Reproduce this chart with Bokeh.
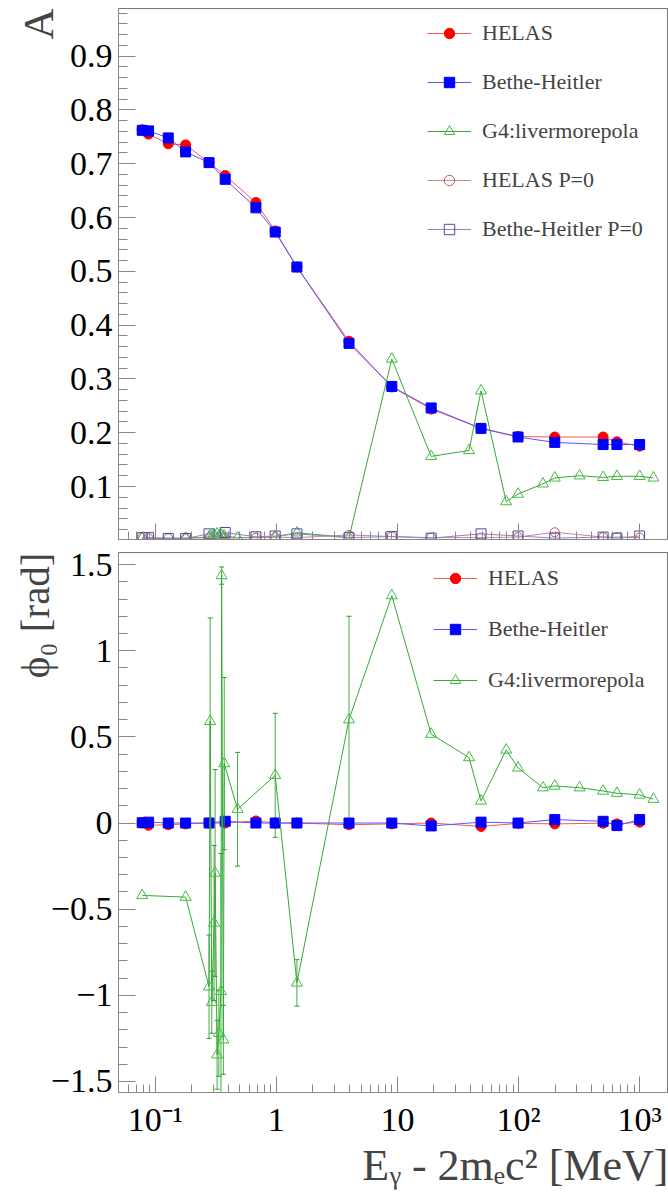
import numpy as np
from bokeh.plotting import figure
from bokeh.models import (ColumnDataSource, FixedTicker, CustomJSTickFormatter, Legend,
                          LegendItem, Title, Whisker, TeeHead, Range1d)
from bokeh.layouts import column
from bokeh.embed import file_html
from bokeh.resources import INLINE

# ---------------- data ----------------
# photon energy minus pair threshold [MeV]
x_calc = [0.078, 0.088, 0.128, 0.178, 0.278, 0.378, 0.678, 0.978, 1.478, 3.978,
          8.978, 18.978, 48.978, 98.978, 198.978, 498.978, 648.978, 998.978]
A_helas = [0.763, 0.755, 0.737, 0.735, 0.702, 0.678, 0.628, 0.575, 0.508, 0.370,
           0.285, 0.244, 0.208, 0.193, 0.192, 0.192, 0.183, 0.175]
A_bh = [0.762, 0.761, 0.748, 0.722, 0.702, 0.671, 0.618, 0.573, 0.508, 0.366,
        0.286, 0.246, 0.208, 0.192, 0.182, 0.178, 0.178, 0.178]
A_helas_p0 = [0.005, 0.004, 0.0035, 0.0035, 0.005, 0.004, 0.005, 0.006, 0.005, 0.010,
              0.007, 0.005, 0.005, 0.006, 0.015, 0.006, 0.006, 0.005]
A_bh_p0 = [0.005, 0.005, 0.0035, 0.0035, 0.012, 0.0145, 0.0065, 0.008, 0.012, 0.005,
           0.007, 0.004, 0.012, 0.008, 0.004, 0.006, 0.004, 0.008]
phi_helas = [0.0, -0.013, -0.01, -0.005, 0.0, 0.0, 0.012, 0.0, 0.0, -0.01,
             -0.005, 0.0, -0.02, -0.002, -0.005, -0.001, -0.005, 0.005]
phi_bh = [0.002, 0.005, 0.0, 0.0, 0.0, 0.01, 0.0, 0.0, 0.0, 0.0,
          0.0, -0.017, 0.005, 0.0, 0.02, 0.01, -0.015, 0.02]

x_g4 = [0.078, 0.178, 0.278, 0.284, 0.293, 0.306, 0.312, 0.324, 0.335, 0.349,
        0.353, 0.365, 0.371, 0.478, 0.978, 1.478, 3.978, 8.978, 18.978, 38.978,
        48.978, 78.978, 98.978, 158.978, 198.978, 318.978, 498.978, 648.978, 998.978, 1298.978]
A_g4 = [0.004, 0.004, 0.006, 0.008, 0.006, 0.010, 0.007, 0.012, 0.008, 0.010,
        0.009, 0.006, 0.008, 0.005, 0.006, 0.014, 0.005, 0.337, 0.156, 0.167,
        0.278, 0.072, 0.086, 0.105, 0.116, 0.120, 0.117, 0.119, 0.119, 0.116]
phi_g4 = [-0.42, -0.43, -0.95, 0.59, -1.04, -0.58, -0.29, -1.345, -1.22, -0.977,
          1.436, -1.258, 0.345, 0.08, 0.277, -0.928, 0.60, 1.32, 0.516, 0.38,
          0.128, 0.424, 0.32, 0.205, 0.215, 0.205, 0.186, 0.173, 0.163, 0.138]
phi_g4_err = [0.0, 0.0, 0.30, 0.60, 0.18, 0.45, 0.60, 0.20, 0.25, 0.80,
              0.05, 0.20, 0.50, 0.33, 0.36, 0.135, 0.60, 0.0, 0.0, 0.0,
              0.0, 0.0, 0.0, 0.0, 0.0, 0.0, 0.0, 0.0, 0.0, 0.0]

x_major = [0.1, 1, 10, 100, 1000]
x_minor = [k * 10.0 ** d for d in range(-2, 4) for k in range(2, 10)]
A_major = [0.1, 0.2, 0.3, 0.4, 0.5, 0.6, 0.7, 0.8, 0.9]
phi_major = [-1.5, -1.0, -0.5, 0.0, 0.5, 1.0, 1.5]

# ---------------- style ----------------
FONT = "'Liberation Serif', 'Times New Roman', serif"
AXC = "#888888"
RED, RED_L = "#ff0000", "#ff5555"
BLUE, BLUE_L = "#0000ff", "#5555ff"
GREEN_L, GREEN_M, GREEN_E = "#33aa33", "#44bb44", "#22a022"
BROWN, BROWN_L = "#c05a5a", "#cc8888"
NAVY, NAVY_L = "#4a4aaa", "#8888cc"
X0, X1 = 0.0497, 1730.0

num_fmt = CustomJSTickFormatter(code="""
const v = Math.round(tick*10)/10;
return v.toString().replace("-", "\u2212");
""")
log_fmt = CustomJSTickFormatter(code="""
const e = Math.round(Math.log10(tick));
if (e == 0) return "1";
if (e == 1) return "10";
const m = {"-1": "\u207b\u00b9", "-2": "\u207b\u00b2", "2": "\u00b2", "3": "\u00b3"};
return "10" + m[String(e)];
""")
blank_fmt = CustomJSTickFormatter(code="return '';")


def style_axes(p):
    p.grid.visible = False
    p.outline_line_color = "#777777"
    for ax in list(p.xaxis) + list(p.yaxis):
        ax.axis_line_color = AXC
        ax.major_tick_line_color = AXC
        ax.minor_tick_line_color = AXC
        ax.major_tick_out = 0
        ax.minor_tick_out = 0
        ax.major_label_text_font = FONT
        ax.major_label_text_font_size = "34px"
        ax.major_label_text_color = "black"
    for ax in p.yaxis:
        ax.major_tick_in = 17
        ax.minor_tick_in = 9
        ax.major_label_standoff = 6
    for ax in p.xaxis:
        ax.major_tick_in = 16
        ax.minor_tick_in = 8


def legend(items, loc, spacing):
    return Legend(items=items, location=loc, label_text_font=FONT, label_text_font_size="22px",
                  glyph_width=44, glyph_height=26, label_height=26, spacing=spacing,
                  label_standoff=11, padding=0, margin=0, border_line_color=None,
                  background_fill_alpha=0)


# ---------------- top panel ----------------
p1 = figure(width=668, height=540, x_axis_type="log",
            x_range=Range1d(X0, X1), y_range=Range1d(0.0015, 0.9885),
            output_backend="svg", toolbar_location=None,
            min_border_left=118, min_border_right=0, min_border_top=8, min_border_bottom=1)
style_axes(p1)
p1.xaxis.ticker = FixedTicker(ticks=x_major, minor_ticks=x_minor)
p1.xaxis.formatter = blank_fmt
p1.xaxis.major_label_text_font_size = "0px"
p1.xaxis.major_label_standoff = 0
p1.yaxis.ticker = FixedTicker(ticks=A_major, minor_ticks=[round(0.02 * i, 2) for i in range(1, 50)])
p1.yaxis.formatter = num_fmt

s_h = ColumnDataSource(dict(x=x_calc, y=A_helas))
s_b = ColumnDataSource(dict(x=x_calc, y=A_bh))
s_g = ColumnDataSource(dict(x=x_g4, y=A_g4))
s_h0 = ColumnDataSource(dict(x=x_calc, y=A_helas_p0))
s_b0 = ColumnDataSource(dict(x=x_calc, y=A_bh_p0))

l_h = p1.line("x", "y", source=s_h, line_color=RED_L, line_width=1)
m_h = p1.scatter("x", "y", source=s_h, marker="circle", size=10, fill_color=RED, line_color=RED)
l_b = p1.line("x", "y", source=s_b, line_color=BLUE_L, line_width=1)
m_b = p1.scatter("x", "y", source=s_b, marker="square", size=10, fill_color=BLUE, line_color=BLUE)
l_g = p1.line("x", "y", source=s_g, line_color=GREEN_L, line_width=1)
m_g = p1.scatter("x", "y", source=s_g, marker="triangle", size=11, fill_color=None, line_color=GREEN_M)
l_h0 = p1.line("x", "y", source=s_h0, line_color=BROWN_L, line_width=1)
m_h0 = p1.scatter("x", "y", source=s_h0, marker="circle", size=9, fill_color=None, line_color=BROWN)
l_b0 = p1.line("x", "y", source=s_b0, line_color=NAVY_L, line_width=1)
m_b0 = p1.scatter("x", "y", source=s_b0, marker="square", size=10, fill_color=None, line_color=NAVY)

p1.add_layout(legend([LegendItem(label="HELAS", renderers=[l_h, m_h]),
                      LegendItem(label="Bethe-Heitler", renderers=[l_b, m_b]),
                      LegendItem(label="G4:livermorepola", renderers=[l_g, m_g]),
                      LegendItem(label="HELAS P=0", renderers=[l_h0, m_h0]),
                      LegendItem(label="Bethe-Heitler P=0", renderers=[l_b0, m_b0])],
                     (309, 297), 23))
p1.add_layout(Title(text="A", align="right", vertical_align="bottom", standoff=10,
                    text_font=FONT, text_font_size="43px", text_font_style="normal"), "left")

# ---------------- bottom panel ----------------
p2 = figure(width=668, height=657, x_axis_type="log",
            x_range=Range1d(X0, X1), y_range=Range1d(-1.564, 1.57),
            output_backend="svg", toolbar_location=None,
            min_border_left=112, min_border_right=0, min_border_top=12, min_border_bottom=105)
style_axes(p2)
p2.xaxis.ticker = FixedTicker(ticks=x_major, minor_ticks=x_minor)
p2.xaxis.formatter = log_fmt
p2.xaxis.major_label_standoff = 8
p2.yaxis.ticker = FixedTicker(ticks=phi_major, minor_ticks=[round(-1.5 + 0.1 * i, 1) for i in range(31)])
p2.yaxis.formatter = num_fmt

t_h = ColumnDataSource(dict(x=x_calc, y=phi_helas))
t_b = ColumnDataSource(dict(x=x_calc, y=phi_bh))
t_g = ColumnDataSource(dict(x=x_g4, y=phi_g4))
ex = [x for x, e in zip(x_g4, phi_g4_err) if e > 0]
elo = [y - e for y, e in zip(phi_g4, phi_g4_err) if e > 0]
ehi = [y + e for y, e in zip(phi_g4, phi_g4_err) if e > 0]
t_err = ColumnDataSource(dict(x=ex, lo=elo, hi=ehi))

k_h = p2.line("x", "y", source=t_h, line_color=RED_L, line_width=1)
n_h = p2.scatter("x", "y", source=t_h, marker="circle", size=10, fill_color=RED, line_color=RED)
k_b = p2.line("x", "y", source=t_b, line_color=BLUE_L, line_width=1)
n_b = p2.scatter("x", "y", source=t_b, marker="square", size=10, fill_color=BLUE, line_color=BLUE)
p2.add_layout(Whisker(source=t_err, base="x", lower="lo", upper="hi", dimension="height",
                      line_color=GREEN_E, line_width=1, line_alpha=0.85,
                      upper_head=TeeHead(size=5, line_color=GREEN_E, line_width=1),
                      lower_head=TeeHead(size=5, line_color=GREEN_E, line_width=1)))
k_g = p2.line("x", "y", source=t_g, line_color=GREEN_L, line_width=1)
n_g = p2.scatter("x", "y", source=t_g, marker="triangle", size=11, fill_color=None, line_color=GREEN_M)

p2.add_layout(legend([LegendItem(label="HELAS", renderers=[k_h, n_h]),
                      LegendItem(label="Bethe-Heitler", renderers=[k_b, n_b]),
                      LegendItem(label="G4:livermorepola", renderers=[k_g, n_g])],
                     (315, 399), 25))
p2.add_layout(Title(text="\u03d5\u2080 [rad]", align="right", vertical_align="top", standoff=-25,
                    text_font=FONT, text_font_size="41px", text_font_style="normal"), "left")
p2.add_layout(Title(text="E\u1d67 - 2m\u2091c\u00b2 [MeV]", align="right", vertical_align="top",
                    standoff=0, text_font=FONT, text_font_size="44px",
                    text_font_style="normal"), "below")

layout = column(p1, p2, spacing=0)
open("out.html", "w").write(file_html(layout, INLINE))
